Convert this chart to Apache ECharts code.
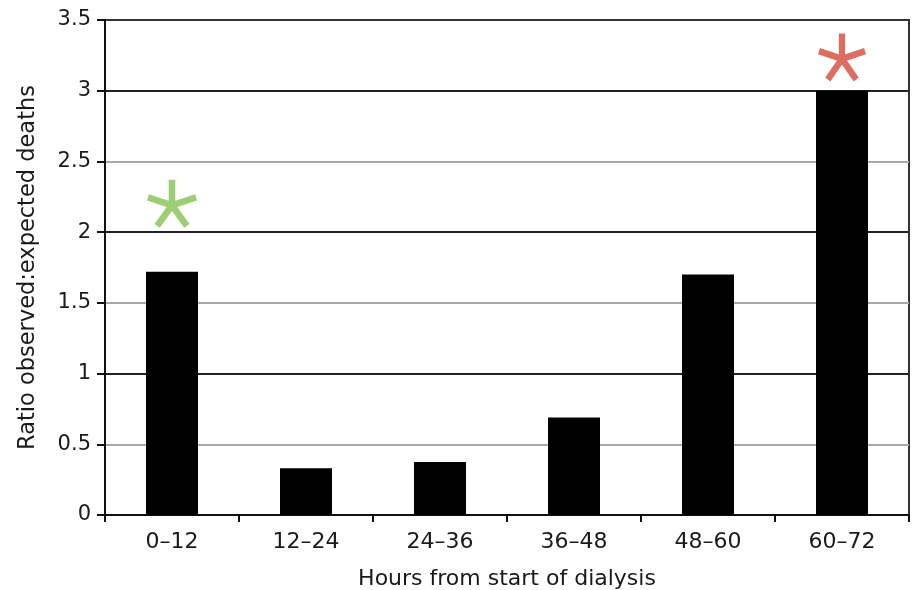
<!DOCTYPE html>
<html>
<head>
<meta charset="utf-8">
<script src="https://cdn.jsdelivr.net/npm/echarts@6/dist/echarts.min.js"></script>
<style>
  html, body { margin: 0; padding: 0; background: #ffffff; }
  #chart { width: 913px; height: 590px; }
</style>
</head>
<body>
<div id="chart"></div>
<script>
// Observed:expected death ratio by interval since the start of dialysis
const categories = ['0–12', '12–24', '24–36', '36–48', '48–60', '60–72'];
const ratios = [1.72, 0.33, 0.375, 0.69, 1.70, 3.0];

// Significance markers: [category, y position]
const greenMarks = [['0–12', 2.20]];
const redMarks = [['60–72', 3.235]];

const yTicks = { min: 0, max: 3.5, interval: 0.5 };

// Five-armed asterisk outline, built from rectangular arms around the centre
function asteriskPath(arms, len, half) {
  let d = '';
  for (let i = 0; i < arms; i++) {
    const a = (i * 360 / arms) * Math.PI / 180;
    const dx = Math.sin(a), dy = -Math.cos(a);
    const px = -dy, py = dx;
    const pts = [
      [half * px, half * py],
      [len * dx + half * px, len * dy + half * py],
      [len * dx - half * px, len * dy - half * py],
      [-half * px, -half * py]
    ];
    d += 'M' + pts.map(p => p[0].toFixed(2) + ' ' + p[1].toFixed(2)).join(' L') + ' Z ';
  }
  return 'path://' + d.trim();
}
const starSymbol = asteriskPath(5, 50, 6.5);

const font = 'DejaVu Sans, Liberation Sans, Arial, sans-serif';
const textColor = '#1a1a1a';
const chart = echarts.init(document.getElementById('chart'), null, { renderer: 'canvas' });

chart.setOption({
  backgroundColor: '#ffffff',
  animation: false,
  grid: {
    left: 105, right: 4, top: 20, bottom: 75,
    outerBoundsMode: 'none',
    containLabel: false,
    show: true, borderColor: '#333', borderWidth: 2, backgroundColor: 'transparent'
  },
  xAxis: {
    type: 'category',
    data: categories,
    name: 'Hours from start of dialysis',
    nameLocation: 'middle',
    nameGap: 53,
    nameTextStyle: { fontFamily: font, fontSize: 22, color: textColor },
    axisLine: { lineStyle: { color: '#111', width: 2 } },
    axisTick: { show: true, length: 7, lineStyle: { color: '#111', width: 2 } },
    axisLabel: { fontFamily: font, fontSize: 22, color: textColor, margin: 16 },
    splitLine: { show: false }
  },
  yAxis: {
    type: 'value',
    min: yTicks.min, max: yTicks.max, interval: yTicks.interval,
    name: 'Ratio observed:expected deaths',
    nameLocation: 'middle',
    nameGap: 65,
    nameTextStyle: { fontFamily: font, fontSize: 22.5, color: textColor },
    axisLine: { show: true, lineStyle: { color: '#111', width: 2 } },
    axisTick: { show: true, length: 8, lineStyle: { color: '#111', width: 2 } },
    axisLabel: { fontFamily: font, fontSize: 21, color: textColor, margin: 14 },
    splitLine: {
      show: true,
      lineStyle: {
        color: ['#222', '#a8a8a8', '#222', '#a8a8a8', '#222', '#a8a8a8', '#222', '#333'],
        width: 2
      }
    }
  },
  series: [
    {
      type: 'bar',
      data: ratios,
      barWidth: 52,
      itemStyle: { color: '#000' },
      z: 3
    },
    {
      type: 'scatter',
      data: greenMarks,
      symbol: starSymbol,
      symbolSize: [50, 48],
      itemStyle: { color: '#84c051' },
      z: 4
    },
    {
      type: 'scatter',
      data: redMarks,
      symbol: starSymbol,
      symbolSize: [48, 48],
      itemStyle: { color: '#d4483a' },
      z: 4
    }
  ]
});
</script>
</body>
</html>
